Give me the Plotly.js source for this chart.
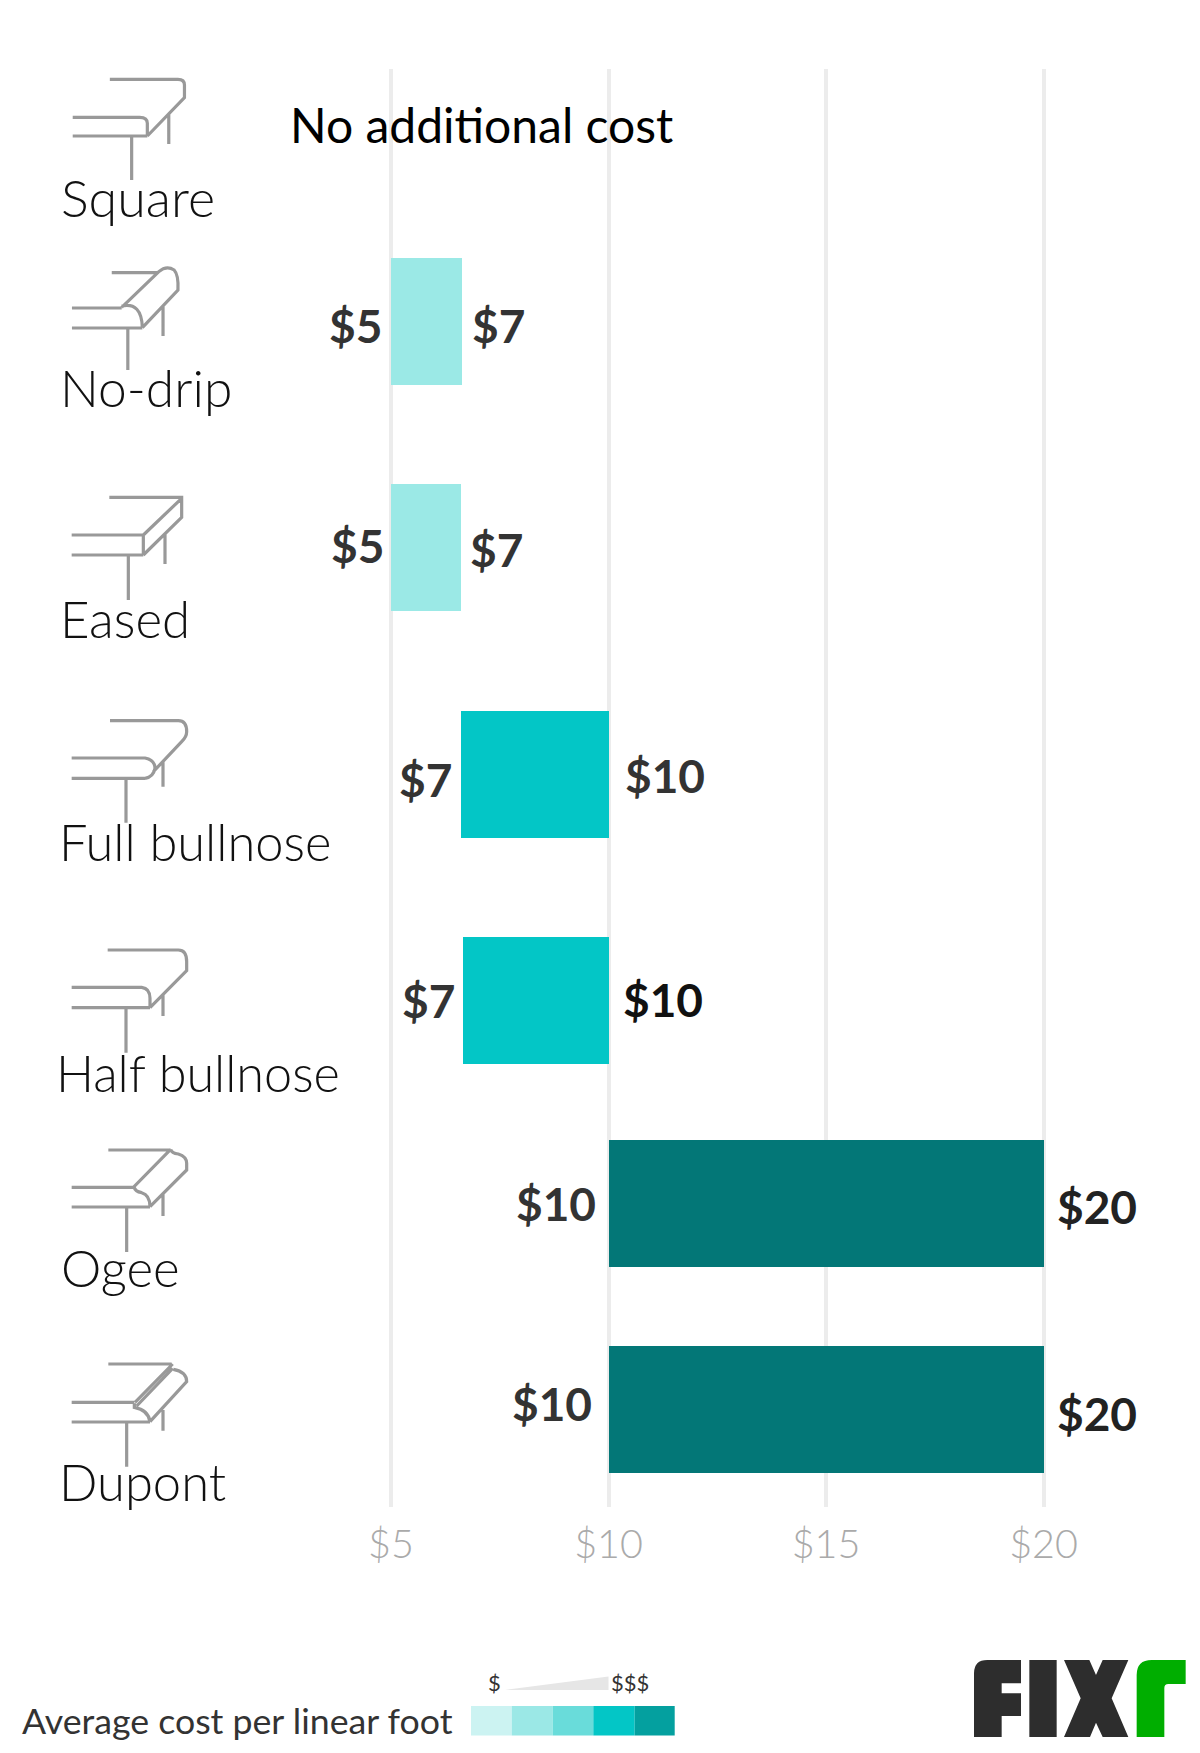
<!DOCTYPE html>
<html>
<head>
<meta charset="utf-8">
<script src="https://cdn.plot.ly/plotly-3.0.1.min.js"></script>
<style>html,body{margin:0;padding:0;background:#fff}#chart{width:1200px;height:1753px}svg text{font-variant-ligatures:none}</style>
</head>
<body>
<div id="chart"></div>
<script>
// ---------- data ----------
const categories = ["Square","No-drip","Eased","Full bullnose","Half bullnose","Ogee","Dupont"];
const lowValues  = [null,5,5,6.62,6.66,10,10];
const highValues = [null,6.63,6.62,10,10,20,20];
const lowLabels  = [null,"$5","$5","$7","$7","$10","$10"];
const highLabels = [null,"$7","$7","$10","$10","$20","$20"];
const noCostText = "No additional cost";
const tickValues = [5,10,15,20];
const tickLabels = ["$5","$10","$15","$20"];
const legendTitle = "Average cost per linear foot";

// ---------- layout constants (page pixels) ----------
const W = 1200, H = 1753;
const X = p => p / W, Y = p => 1 - p / H;
const rowCenters = [125,321.5,547,774,1000,1203.5,1409.5];
const barThickness = 127;
const barColors = ["#9be9e6","#9be9e6","#9be9e6","#03c6c6","#03c6c6","#037777","#037777"];
const catLabelPos = [[60,197],[59,387],[59,618],[58,842],[55,1072],[60,1267],[58,1481]];
const catLabelSizes = [52,51.5,51,50.6,50.4,51,50.7];
const lowLabelPos  = [null,[355.5,325],[357,545],[425.5,779.5],[428.5,1000],[555.5,1203],[551.5,1403]];
const highLabelPos = [null,[498,325],[496,549],[664.5,775.5],[662.5,999],[1096.5,1206],[1096.5,1413]];
const highLabelColors = [null,"#333","#333","#333","#111","#222","#222"];
const legendEdges = [471,511.7,552.7,593.3,634.7,674.7];
const legendColors = ["#ccf3f2","#9be8e6","#69dcda","#03c6c6","#04a09f"];

// ---------- decoration helpers ----------
function toPaper(path, ox, oy, sx, sy) {
  return path.replace(/(-?[\d.]+) (-?[\d.]+)/g, (m, a, b) =>
    X(ox + parseFloat(a) / sx) + " " + Y(oy + parseFloat(b) / sy));
}
const iconLine = {color:"#999999", width:3.2};
const icon = (path, ox, oy, sx, sy) => ({type:"path", xref:"paper", yref:"paper", layer:"above",
  path: toPaper(path, ox, oy, sx, sy), line: iconLine, fillcolor:"rgba(0,0,0,0)"});

const icons = [
  // Square
  icon("M287 238 L465 238 Q482 238 482 255 L482 293 L385 408 M190 352 L365 352 Q385 352 385 370 L385 408 M190 408 L385 408 M344 408 L344 540 M441 340 L441 432", 0, 0, 2.613, 3),
  // No-drip
  icon("M292 818 L410 818 M188 924 L318 924 M318 922 L415 815 Q435 795 455 810 Q467 825 465 870 L372 983 M318 918 Q370 905 372 983 M188 984 L372 984 M334 984 L334 1110 M426 920 L426 1008", 0, 0, 2.613, 3),
  // Eased
  icon("M208 112 L425 112 L425 172 L310 285 M425 115 L310 225 M95 225 L310 225 L310 285 M95 285 L310 285 M265 285 L265 420 M375 222 L375 312", 40, 460, 3, 3),
  // Full bullnose
  icon("M210 92 L415 92 Q440 92 440 125 Q440 140 425 155 L340 245 M95 204 L315 204 Q345 210 345 235 Q340 262 315 265 M95 265 L315 265 M258 265 L258 398 M369 212 L369 290", 40, 690, 3, 3),
  // Half bullnose
  icon("M203 780 L415 780 Q440 780 440 815 L440 842 L330 953 M95 892 L305 892 Q330 895 330 925 L330 953 M95 953 L330 953 M258 953 L258 1088 M369 912 L369 978", 40, 690, 3, 3),
  // Ogee
  icon("M205 90 L392 90 M392 88 Q395 100 415 102 Q440 110 440 130 L440 150 L330 260 M392 88 L282 200 Q285 215 305 218 Q330 225 330 260 M95 202 L282 202 M95 261 L330 261 M260 261 L260 396 M369 222 L369 288", 40, 1120, 3, 3),
  // Dupont
  icon("M205 732 L395 732 M398 732 L285 847 M398 745 L290 858 M400 748 Q440 755 440 785 L330 905 M283 850 L283 862 Q325 870 330 905 M95 847 L283 847 M95 906 L330 906 M260 906 L260 1040 M369 870 L369 932", 40, 1120, 3, 3)
];

const logoShape = (path, color) => ({type:"path", xref:"paper", yref:"paper", layer:"above",
  path: toPaper(path, 950, 1640, 3, 3), fillcolor: color, line:{width:0}});
const logo = [
  logoShape("M72 291 L72 100 Q72 60 112 60 L213 60 L213 130 L155 130 L155 160 L213 160 L213 228 L155 228 L155 291 Z", "#2d2d2d"),
  logoShape("M238 60 L320 60 L320 291 L238 291 Z", "#2d2d2d"),
  logoShape("M342 60 L418 60 L438 105 L458 60 L535 60 L485 175 L535 291 L458 291 L438 248 L420 291 L342 291 L392 175 Z", "#2d2d2d"),
  logoShape("M560 291 L560 105 Q560 60 605 60 L707 60 L707 132 L655 132 Q643 132 643 144 L643 291 Z", "#00ae00")
];

const legendSwatches = legendColors.map((c, i) => ({type:"rect", xref:"paper", yref:"paper", layer:"above",
  x0:X(legendEdges[i]), x1:X(legendEdges[i+1]), y0:Y(1735.5), y1:Y(1706), fillcolor:c, line:{width:0}}));
const legendWedge = {type:"path", xref:"paper", yref:"paper", layer:"above",
  path: toPaper("M505 1690 L608.5 1676.5 L608.5 1690 Z", 0, 0, 1, 1), fillcolor:"#e6e6e6", line:{width:0}};

// ---------- annotations ----------
const note = (text, p, font, xanchor) => ({text, xref:"paper", yref:"paper", x:X(p[0]), y:Y(p[1]),
  xanchor: xanchor || "center", yanchor:"middle", showarrow:false, font, borderpad:0});
const lightFont = s => ({family:"Lato", size:s, color:"#111", weight:300});
const valueFont = c => ({family:"Lato", size:46, color:c, weight:700});

const annotations = [];
categories.forEach((c, i) => annotations.push(note(c, catLabelPos[i], lightFont(catLabelSizes[i]), "left")));
lowLabels.forEach((t, i) => { if (t) annotations.push(note(t, lowLabelPos[i], valueFont("#333"))); });
highLabels.forEach((t, i) => { if (t) annotations.push(note(t, highLabelPos[i], valueFont(highLabelColors[i]))); });
annotations.push(note(noCostText, [289,124.5], {family:"Lato", size:48, color:"#000", weight:400}, "left"));
annotations.push(note(legendTitle, [21,1720.5], {family:"Lato", size:35.7, color:"#333", weight:400}, "left"));
annotations.push(note("$", [494.5,1682], {family:"Lato", size:22, color:"#333", weight:400}));
annotations.push(note("$$$", [630,1682], {family:"Lato", size:22, color:"#333", weight:400}));

// ---------- chart ----------
const trace = {
  type:"bar", orientation:"h",
  y: rowCenters,
  base: lowValues,
  x: highValues.map((h, i) => h === null ? null : h - lowValues[i]),
  width: barThickness,
  marker:{color: barColors, line:{width:0}},
  hoverinfo:"skip"
};
const pxPerDollar = 43.5;
const x5 = 391;
const layout = {
  width:W, height:H, paper_bgcolor:"#fff", plot_bgcolor:"#fff",
  margin:{l:0,r:0,t:0,b:0}, showlegend:false, bargap:0,
  xaxis:{
    domain:[X(300),X(1100)],
    range:[5 + (300-x5)/pxPerDollar, 5 + (1100-x5)/pxPerDollar],
    tickmode:"array", tickvals:tickValues, ticktext:tickLabels,
    showgrid:true, gridcolor:"#ececec", gridwidth:4,
    zeroline:false, showline:false, ticks:"",
    ticklabelstandoff:10,
    tickfont:{family:"Lato", size:39.5, color:"#aaaaaa", weight:300}
  },
  yaxis:{
    domain:[Y(1507),Y(69)], range:[1507,69],
    showgrid:false, zeroline:false, showline:false, showticklabels:false, ticks:""
  },
  shapes:[...icons, ...logo, ...legendSwatches, legendWedge],
  annotations
};
Plotly.newPlot("chart",[trace],layout,{staticPlot:true,displayModeBar:false});
</script>
</body>
</html>
